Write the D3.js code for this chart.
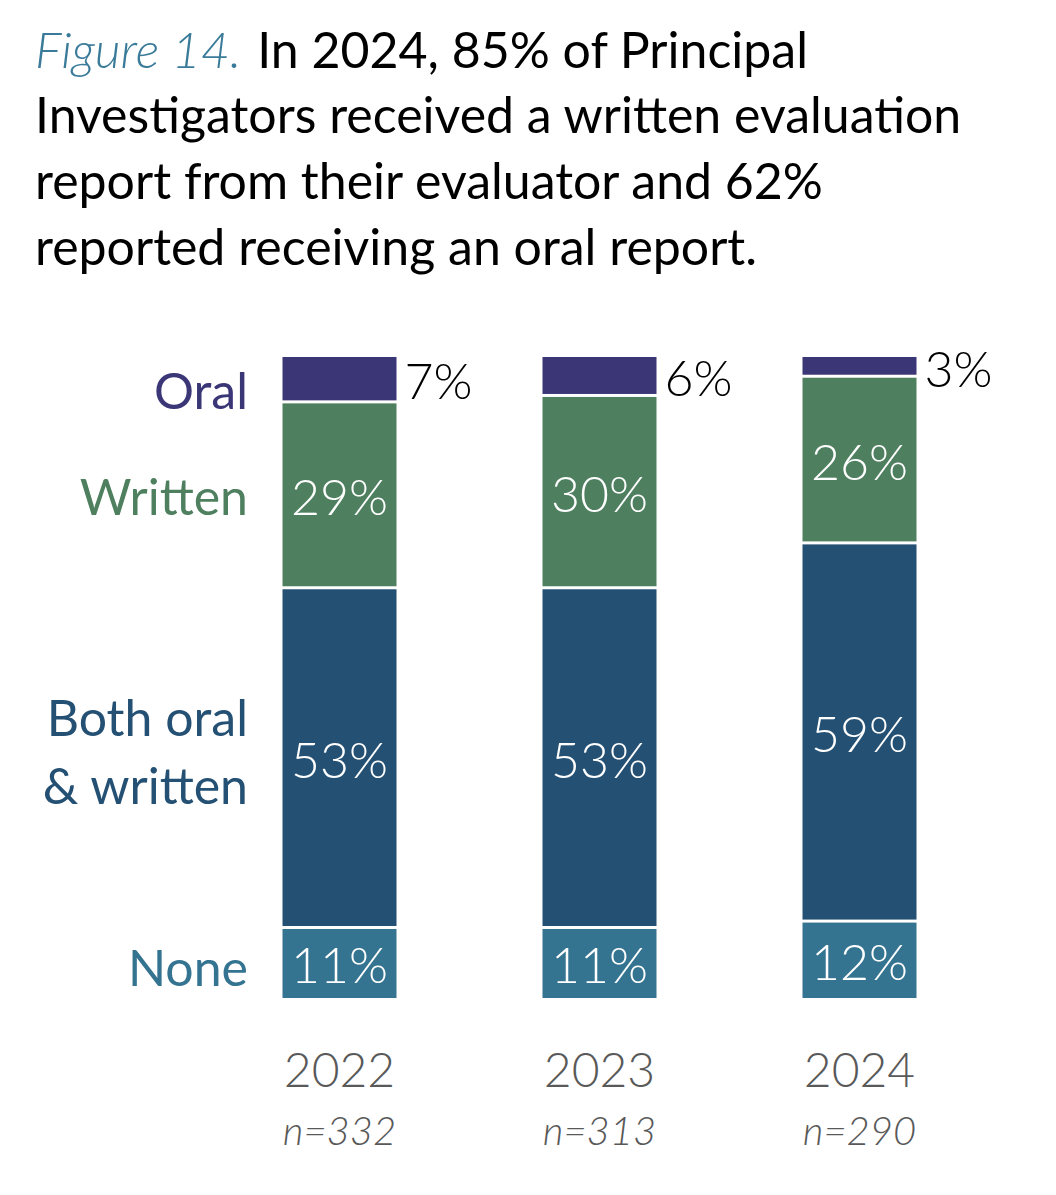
<!DOCTYPE html>
<html>
<head>
<meta charset="utf-8">
<script src="https://cdn.jsdelivr.net/npm/d3@7"></script>
<style>
  body { margin: 0; background: #fff; }
  text { font-family: Lato, "Open Sans", sans-serif; }
</style>
</head>
<body>
<div id="wrapper"></div>
<script>
// data
const years = ["2022", "2023", "2024"]
const sampleSizes = ["n=332", "n=313", "n=290"]
const categories = ["None", "Both", "Written", "Oral"]   // bottom to top
const none    = [11, 11, 12]
const both    = [53, 53, 59]
const written = [29, 30, 26]
const oral    = [7, 6, 3]
const categoryLabels = {
  Oral: ["Oral"],
  Written: ["Written"],
  Both: ["Both oral", "& written"],
  None: ["None"]
}
const titleLines = [
  "In 2024, 85% of Principal",
  "Investigators received a written evaluation",
  "report from their evaluator and 62%",
  "reported receiving an oral report."
]

const colors = {
  Oral: "#3b3777",
  Written: "#4e8060",
  Both: "#245073",
  None: "#357491"
}

function drawChart() {
  const dimensions = { width: 1056, height: 1195 }

  const rows = years.map((y, i) => ({
    year: y, n: sampleSizes[i],
    None: none[i], Both: both[i], Written: written[i], Oral: oral[i]
  }))
  const stacked = d3.stack().keys(categories)(rows)

  const xScale = d3.scaleBand()
    .domain(years)
    .range([209.5, 989.5])
    .paddingInner(146 / 260)
    .paddingOuter(73 / 260)

  const yScale = d3.scaleLinear()
    .domain([0, 100])
    .range([998, 357])

  const svg = d3.select("#wrapper").append("svg")
    .attr("width", dimensions.width)
    .attr("height", dimensions.height)

  // title
  const title = svg.append("g")
  const t1 = title.append("text").attr("x", 35).attr("y", 68).attr("font-size", 50)
  t1.append("tspan")
    .attr("fill", "#3a7b99").attr("font-style", "italic").attr("font-weight", 300)
    .text("Figure 14.")
  t1.append("tspan").attr("dx", 16).attr("fill", "#000").text(titleLines[0])
  titleLines.slice(1).forEach((line, i) => {
    title.append("text")
      .attr("x", 35)
      .attr("y", 133 + i * 66)
      .attr("font-size", 50)
      .attr("fill", "#000")
      .text(line)
  })

  // bars
  const gap = 3
  const layers = svg.append("g").selectAll("g")
    .data(stacked)
    .join("g")
    .attr("fill", d => colors[d.key])

  layers.selectAll("rect")
    .data(d => d.map(s => ({ key: d.key, s })))
    .join("rect")
    .attr("x", d => xScale(d.s.data.year))
    .attr("width", xScale.bandwidth())
    .attr("y", d => yScale(d.s[1]) + (d.key === "Oral" ? 0 : gap / 2))
    .attr("height", d => {
      const top = yScale(d.s[1]) + (d.key === "Oral" ? 0 : gap / 2)
      const bottom = yScale(d.s[0]) - (d.key === "None" ? 0 : gap / 2)
      return bottom - top
    })

  // value labels
  layers.selectAll("text")
    .data(d => d.map(s => ({ key: d.key, s })))
    .join("text")
    .attr("x", d => d.key === "Oral"
      ? xScale(d.s.data.year) + xScale.bandwidth() + 8
      : xScale(d.s.data.year) + xScale.bandwidth() / 2)
    .attr("y", d => (yScale(d.s[0]) + yScale(d.s[1])) / 2 + 2)
    .attr("dy", "0.36em")
    .attr("text-anchor", d => d.key === "Oral" ? "start" : "middle")
    .attr("fill", d => d.key === "Oral" ? "#000" : "#fff")
    .attr("font-size", 50)
    .attr("font-weight", 300)
    .text(d => `${d.s.data[d.key]}%`)

  // category labels on the left, aligned with 2022 segments
  const first = stacked.map(layer => ({ key: layer.key, s: layer[0] }))
  const shift = { Oral: 12, Written: 2, Both: -6, None: 5 }
  const catG = svg.append("g")
  first.forEach(d => {
    const lines = categoryLabels[d.key]
    const mid = (yScale(d.s[0]) + yScale(d.s[1])) / 2
    const lineH = 68
    lines.forEach((line, j) => {
      catG.append("text")
        .attr("x", 248)
        .attr("y", mid + (j - (lines.length - 1) / 2) * lineH + shift[d.key])
        .attr("dy", "0.36em")
        .attr("text-anchor", "end")
        .attr("font-size", 50)
        .attr("fill", colors[d.key])
        .text(line)
    })
  })

  // year axis
  const axis = svg.append("g")
  axis.selectAll("text.year")
    .data(rows)
    .join("text")
    .attr("class", "year")
    .attr("x", d => xScale(d.year) + xScale.bandwidth() / 2)
    .attr("y", 1087)
    .attr("text-anchor", "middle")
    .attr("font-size", 48)
    .attr("font-weight", 300)
    .attr("fill", "#595959")
    .text(d => d.year)

  axis.selectAll("text.n")
    .data(rows)
    .join("text")
    .attr("class", "n")
    .attr("x", d => xScale(d.year) + xScale.bandwidth() / 2)
    .attr("y", 1145)
    .attr("text-anchor", "middle")
    .attr("font-size", 40)
    .attr("font-style", "italic")
    .attr("font-weight", 300)
    .attr("fill", "#595959")
    .text(d => d.n)
}
drawChart()
</script>
</body>
</html>
